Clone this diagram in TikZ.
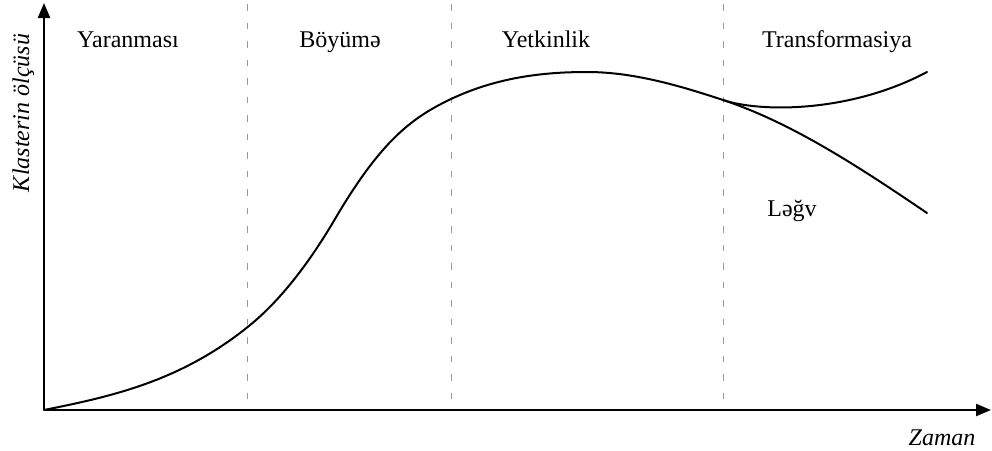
\documentclass[tikz,border=0pt]{standalone}
\usepackage{fontspec}
\setmainfont{Liberation Serif}
\usetikzlibrary{arrows.meta}
\tikzset{
  axis/.style={line width=2.2pt,-{Triangle[length=15pt,width=12pt]}},
  phase/.style={line width=1.1pt,color=black!40,dash pattern=on 6.5pt off 12pt},
  curve/.style={line width=2pt,line cap=round,line join=round},
  lbl/.style={font=\fontsize{24}{28}\selectfont,inner sep=0pt,anchor=base},
  axlbl/.style={font=\fontsize{24}{28}\selectfont\itshape,inner sep=0pt,anchor=base}
}
\begin{document}
\begin{tikzpicture}[x=1pt,y=-1pt]
\useasboundingbox (0,0) rectangle (992,450);
% coordinates
\coordinate (O) at (44,410);
\coordinate (ytop) at (44,3);
\coordinate (xend) at (991,410);
\coordinate (d1t) at (247.7,4);
\coordinate (d1b) at (247.7,410);
\coordinate (d2t) at (451.5,4);
\coordinate (d2b) at (451.5,410);
\coordinate (d3t) at (723.3,4);
\coordinate (d3b) at (723.3,410);
\coordinate (P1) at (247.7,327);
\coordinate (P2) at (335,219);
\coordinate (P3) at (451,99);
\coordinate (P4) at (587,72);
\coordinate (J) at (723,100);
\coordinate (D) at (927,213);
\coordinate (U) at (927,72);
% phase separators
\draw[phase] (d1t) -- (d1b);
\draw[phase] (d2t) -- (d2b);
\draw[phase] (d3t) -- (d3b);
% axes
\draw[axis] (O) -- (ytop);
\draw[axis] (O) -- (xend);
% main curve with decline branch
\draw[curve] (O) .. controls (111.9,396.4) and (179.8,381.4) .. (P1)
  .. controls (276.8,303.7) and (305.9,268.5) .. (P2)
  .. controls (381.4,140) and (412.3,117.5) .. (P3)
  .. controls (496.3,77.7) and (541.7,72) .. (P4)
  .. controls (632.3,72) and (677.7,85) .. (J)
  .. controls (791,122.4) and (859,166.8) .. (D);
% transformation branch
\draw[curve] (J) .. controls (760,112.5) and (850,113) .. (U);
% labels
\node[lbl] (p1) at (128,47) {Yaranması};
\node[lbl] (p2) at (340,47) {Böyümə};
\node[lbl] (p3) at (546,47) {Yetkinlik};
\node[lbl] (p4) at (837,47) {Transformasiya};
\node[lbl] (lg) at (792,216.5) {Ləğv};
\node[axlbl,rotate=90] (yl) at (29,113) {Klasterin ölçüsü};
\node[axlbl] (xl) at (942,445) {Zaman};
\end{tikzpicture}
\end{document}
